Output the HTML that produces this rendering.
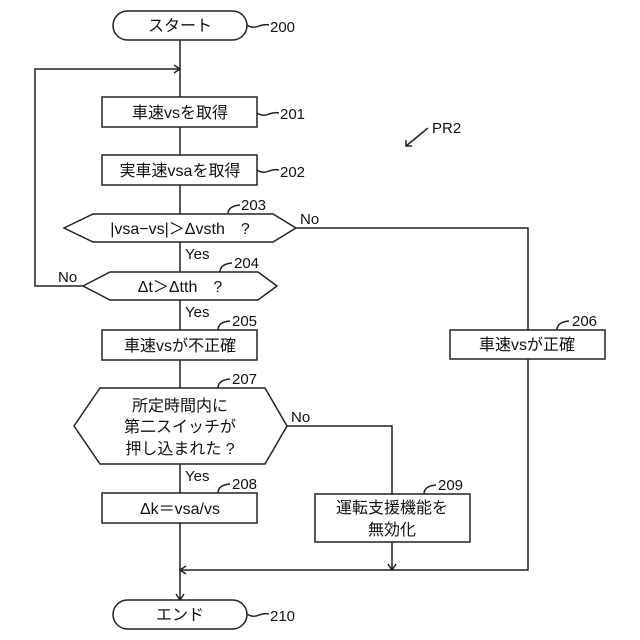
<!DOCTYPE html>
<html><head><meta charset="utf-8"><style>
html,body{margin:0;padding:0;background:#fff}
svg{display:block}
text{font-family:"Liberation Sans","Noto Sans CJK JP",sans-serif;fill:#111}
</style></head><body>
<svg width="640" height="640" viewBox="0 0 640 640" xmlns="http://www.w3.org/2000/svg">
<g fill="none" stroke="#222" stroke-width="1.5">
<!-- main vertical -->
<line x1="180" y1="40" x2="180" y2="600"/>
<!-- start -->
<rect x="113" y="11" width="134" height="29" rx="14.5" fill="#fff"/>
<!-- loop -->
<polyline points="83,286 35,286 35,69 180,69"/>
<polyline points="174,65 180,69 174,73"/>
<!-- 201, 202 -->
<rect x="102" y="97" width="155" height="30" fill="#fff"/>
<rect x="102" y="155" width="155" height="30" fill="#fff"/>
<!-- 203 -->
<polygon points="64,228 93,214 273,214 296,228 273,242 93,242" fill="#fff"/>
<polyline points="296,228 528,228 528,570 180,570"/>
<polyline points="186,566 180,570 186,574"/>
<!-- 204 -->
<polygon points="83,286 110,272 258,272 277,286 258,300 110,300" fill="#fff"/>
<!-- 205 -->
<rect x="102" y="330" width="155" height="30" fill="#fff"/>
<!-- 206 -->
<rect x="450" y="330" width="155" height="29" fill="#fff"/>
<!-- 207 -->
<polygon points="74,426 100,388 265,388 287,426 265,464 100,464" fill="#fff"/>
<polyline points="287,426 392,426 392,570"/>
<polyline points="388,564 392,570 396,564"/>
<!-- 208 -->
<rect x="102" y="493" width="155" height="30" fill="#fff"/>
<!-- 209 -->
<rect x="315" y="494" width="155" height="48" fill="#fff"/>
<!-- end -->
<polyline points="176,594 180,600 184,594"/>
<rect x="113" y="600" width="134" height="29" rx="14.5" fill="#fff"/>
<!-- leaders -->
<path d="M247,25 q6,4 12,1 q6,-2 10,-1"/>
<path d="M257,113 q6,4 12,1 q6,-2 10,-1"/>
<path d="M257,170 q6,4 12,1 q6,-2 10,-1"/>
<path d="M228,214 q0,-8 12,-9"/>
<path d="M220,272 q0,-8 12,-9"/>
<path d="M218,330 q0,-8 12,-9"/>
<path d="M557,330 q0,-8 12,-9"/>
<path d="M218,388 q0,-8 12,-9"/>
<path d="M218,493 q0,-8 12,-9"/>
<path d="M424,494 q0,-8 12,-9"/>
<path d="M247,614 q6,4 12,1 q6,-2 10,-1"/>
<path d="M428,128 L406,146"/>
<polyline points="406,140 406,146 412,146"/>
</g>
<g font-size="16">
<text x="180" y="31" text-anchor="middle">スタート</text>
<text x="180" y="118" text-anchor="middle">車速vsを取得</text>
<text x="180" y="176" text-anchor="middle">実車速vsaを取得</text>
<text x="180" y="234" text-anchor="middle">|vsa−vs|＞Δvsth　?</text>
<text x="180" y="292" text-anchor="middle">Δt＞Δtth　?</text>
<text x="180" y="351" text-anchor="middle">車速vsが不正確</text>
<text x="527" y="350" text-anchor="middle">車速vsが正確</text>
<text x="180" y="411" text-anchor="middle">所定時間内に</text>
<text x="180" y="432" text-anchor="middle">第二スイッチが</text>
<text x="180" y="454" text-anchor="middle">押し込まれた ?</text>
<text x="180" y="514" text-anchor="middle">Δk＝vsa/vs</text>
<text x="392" y="513" text-anchor="middle">運転支援機能を</text>
<text x="392" y="535" text-anchor="middle">無効化</text>
<text x="180" y="620" text-anchor="middle">エンド</text>
</g>
<g font-size="15">
<text x="270" y="32">200</text>
<text x="280" y="119">201</text>
<text x="280" y="177">202</text>
<text x="241" y="210">203</text>
<text x="234" y="268">204</text>
<text x="232" y="326">205</text>
<text x="572" y="326">206</text>
<text x="232" y="384">207</text>
<text x="232" y="489">208</text>
<text x="438" y="490">209</text>
<text x="270" y="621">210</text>
<text x="432" y="133">PR2</text>
<text x="300" y="224">No</text>
<text x="58" y="282">No</text>
<text x="291" y="422">No</text>
<text x="185" y="259">Yes</text>
<text x="185" y="317">Yes</text>
<text x="185" y="481">Yes</text>
</g>
</svg>
</body></html>
